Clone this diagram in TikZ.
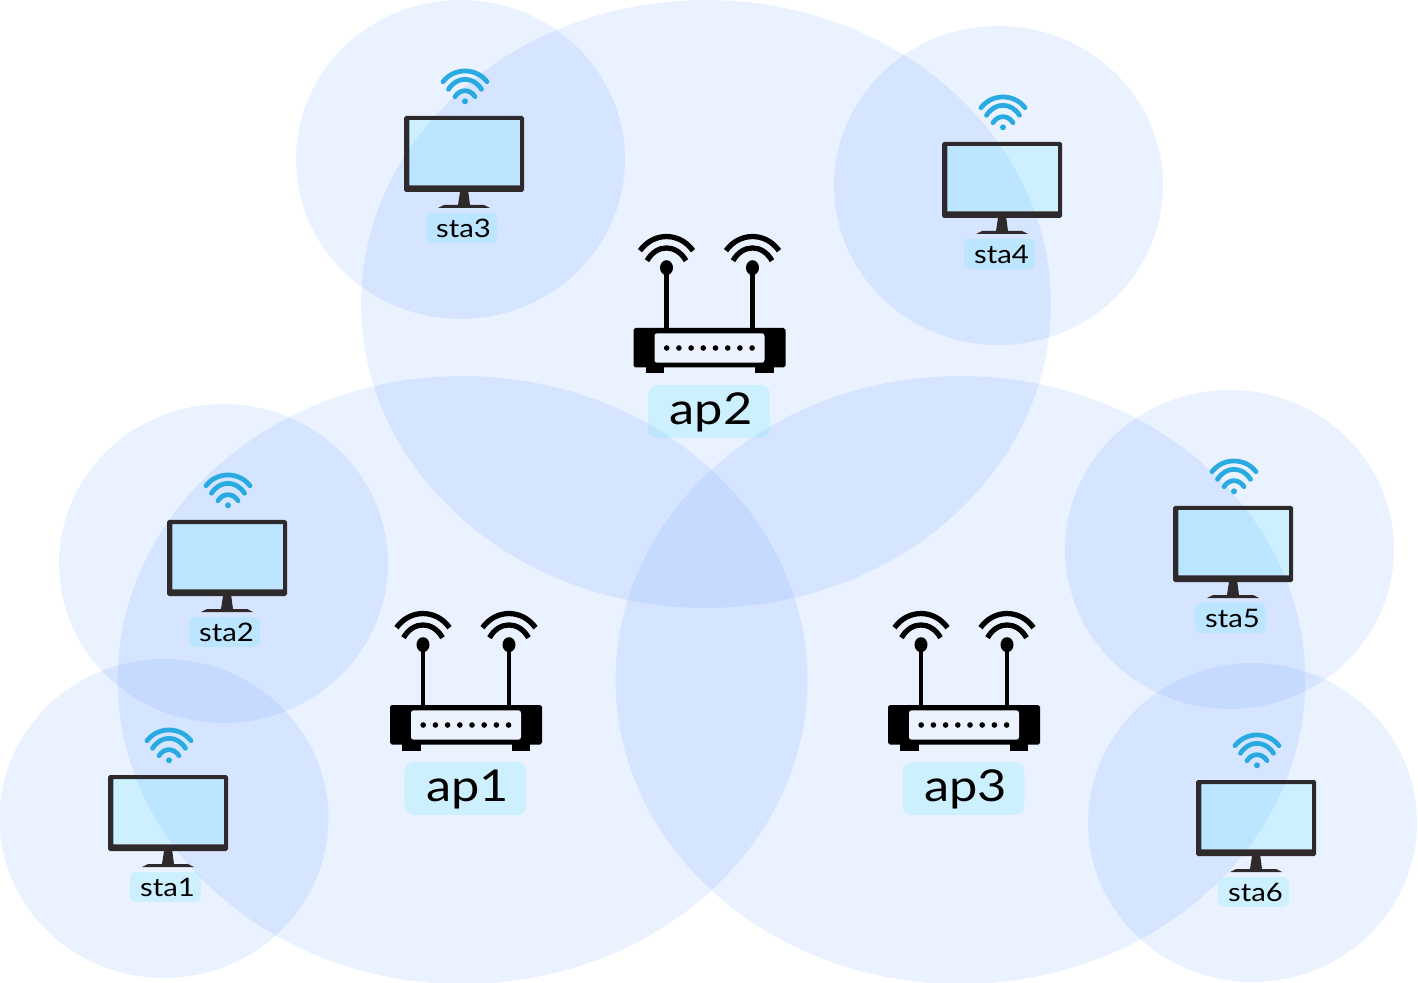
\documentclass[tikz,border=0pt]{standalone}
\usepackage{fontspec}
\setmainfont[FakeStretch=1.15]{Lato}
\usepackage{xcolor}
\usetikzlibrary{positioning, shapes.geometric}
\definecolor{coverblue}{RGB}{60,130,255}
\definecolor{glasscyan}{RGB}{0,230,255}
\definecolor{wifiblue}{RGB}{41,171,226}
\definecolor{framegray}{RGB}{46,42,43}
\definecolor{panellight}{RGB}{236,242,254}

\begin{document}
\begin{tikzpicture}[
    x=0.02cm, y=-0.02cm,
    coverap/.style={ellipse, fill=coverblue, fill opacity=0.11, minimum width=13.8cm, minimum height=12.16cm, inner sep=0pt},
    coversta/.style={ellipse, fill=coverblue, fill opacity=0.11, minimum width=6.58cm, minimum height=6.38cm, inner sep=0pt},
    aplabel/.style={rectangle, rounded corners=5.5pt, fill=glasscyan, fill opacity=0.12, text opacity=1, minimum width=2.44cm, minimum height=1.06cm, inner sep=0pt, text height=19pt, text depth=4pt, execute at begin node={\kern2.3pt}, font=\fontsize{25}{30}\selectfont},
    stalabel/.style={rectangle, rounded corners=3.5pt, fill=glasscyan, fill opacity=0.12, text opacity=1, minimum width=1.42cm, minimum height=0.6cm, inner sep=0pt, execute at begin node={\kern2.3pt}, font=\fontsize{14.5}{17}\selectfont},
    wave/.style={line width=3pt},
    wifi/.style={draw=wifiblue, line width=2.7pt, line cap=round},
    router/.pic={
        \fill[black, rounded corners=1pt] (-76,-20) rectangle (76,19.5);
        \fill[black] (-64,19) rectangle (-45.5,25.5);
        \fill[black] (45.5,19) rectangle (64,25.5);
        \fill[panellight, rounded corners=1.5pt] (-55,-14.7) rectangle (55,14.7);
        \foreach \dotx in {0,...,7} {\fill[black] (-42.8+12.2*\dotx,0) circle (1.6pt);}
        \foreach \antx in {-43,43} {
            \draw[black, line width=2.7pt] (\antx,-20) -- (\antx,-80);
            \fill[black] (\antx,-80.3) ellipse [x radius=6.5, y radius=7.5];
            \draw[black, wave] (\antx-26.5,-97.3) .. controls (\antx-13,-116.2) and (\antx+13,-116.2) .. (\antx+26.5,-97.3);
            \draw[black, wave] (\antx-19.5,-87.3) .. controls (\antx-9.8,-104.3) and (\antx+9.8,-104.3) .. (\antx+19.5,-87.3);
        }
    },
    monitor/.pic={
        \fill[framegray, even odd rule, rounded corners=1pt] (-60,-38) rectangle (60,38) [sharp corners] (-54.7,-34) rectangle (56,31.3);
        \fill[glasscyan, fill opacity=0.12] (-54.7,-34) rectangle (56,31.3);
        \fill[framegray] (-4,38) -- (4.3,38) -- (6,51) -- (-6,51) -- cycle;
        \fill[framegray] (-20,51) -- (20,51) -- (26,54) -- (-26,54) -- cycle;
        \fill[wifiblue] (1,-52.7) circle (1.7pt);
        \draw[wifi] (-9,-57.3) .. controls (-4,-65.3) and (6,-65.3) .. (11,-57.3);
        \draw[wifi] (-15.5,-64.7) .. controls (-7.2,-78) and (9.2,-78) .. (17.5,-64.7);
        \draw[wifi] (-21,-72.3) .. controls (-10,-86.6) and (12,-86.6) .. (23,-72.3);
    }
]
\useasboundingbox (0,0) rectangle (1418,983);

% access point coverage
\node[coverap] (cover1) at (462.5,680) {};
\node[coverap] (cover2) at (706,304) {};
\node[coverap] (cover3) at (960.5,680) {};

% station coverage
\node[coversta] (coversta1) at (164,818.5) {};
\node[coversta] (coversta2) at (223.5,563.5) {};
\node[coversta] (coversta3) at (460.5,159.5) {};
\node[coversta] (coversta4) at (998.5,185.5) {};
\node[coversta] (coversta5) at (1229.5,549.5) {};
\node[coversta] (coversta6) at (1252.5,822.5) {};

% access points
\pic at (466,725) {router};
\pic at (709.5,348) {router};
\pic at (964,725) {router};
\node[aplabel] (ap1) at (465.5,788.5) {ap1};
\node[aplabel] (ap2) at (709,411.5) {ap2};
\node[aplabel] (ap3) at (963.5,788.5) {ap3};

% stations
\pic at (168,813) {monitor};
\pic at (227,558) {monitor};
\pic at (464,154) {monitor};
\pic at (1002,180) {monitor};
\pic at (1233,544) {monitor};
\pic at (1256,818) {monitor};
\node[stalabel] (sta1) at (165.5,887) {sta1};
\node[stalabel] (sta2) at (224.5,632) {sta2};
\node[stalabel] (sta3) at (461.5,228) {sta3};
\node[stalabel] (sta4) at (999.5,254) {sta4};
\node[stalabel] (sta5) at (1230.5,618) {sta5};
\node[stalabel] (sta6) at (1253.5,892) {sta6};

\end{tikzpicture}
\end{document}
